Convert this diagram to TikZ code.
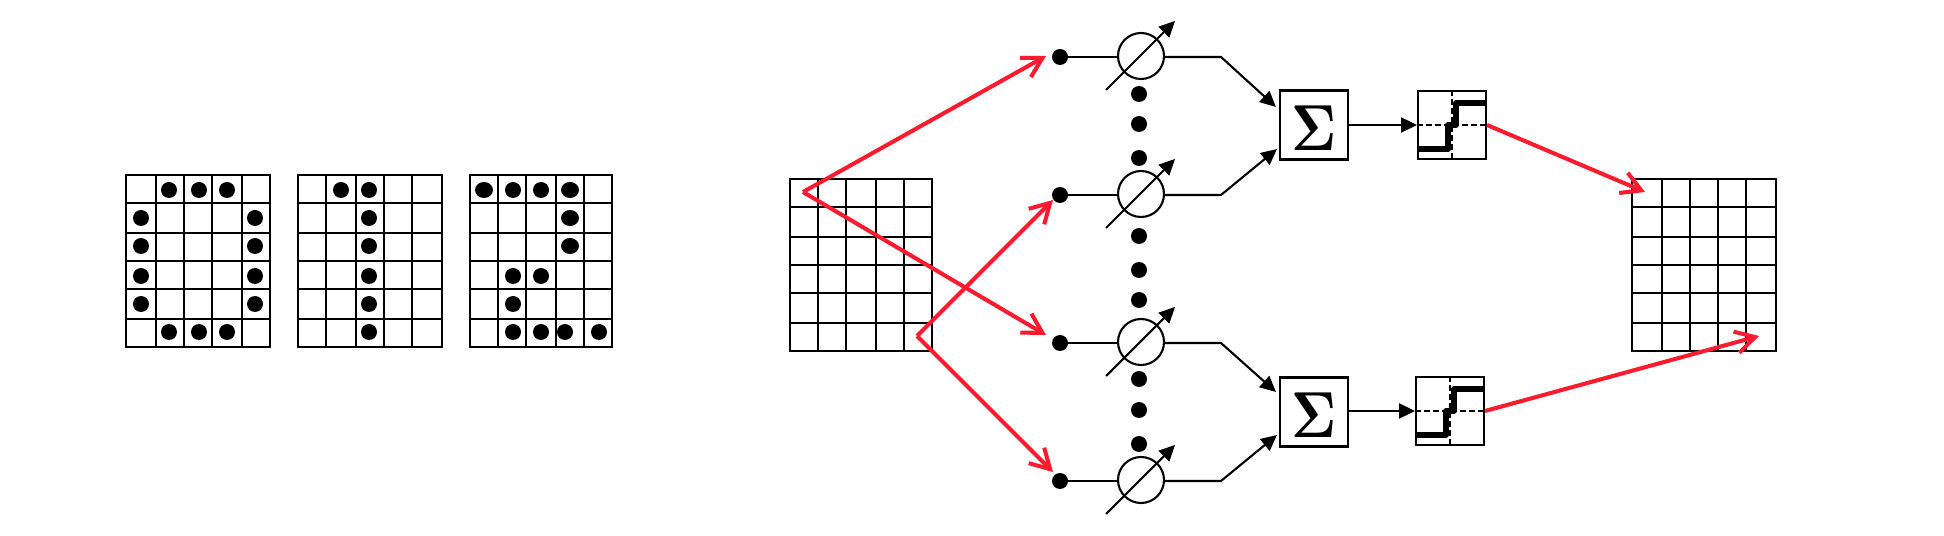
\documentclass[tikz,border=0pt]{standalone}
\usepackage{amsmath}
\usepackage{amssymb}
\usetikzlibrary{arrows.meta,shapes.geometric}

\definecolor{arrowred}{RGB}{255,26,46}

% cell lines of a 5x6 board, #1 is the top left corner, #2 the inner column lines, #3 the width
\newcommand{\pixgrid}[3]{
    \begin{scope}[shift={#1}]
        \foreach \gx in {0,#2,#3} {\draw[gridline] (\gx,0) -- (\gx,172);}
        \foreach \gy in {0,28,58,86,114,144,172} {\draw[gridline] (0,\gy) -- (#3,\gy);}
    \end{scope}
}

% dashed axes and step curve inside a transfer box
\newcommand{\stepcurve}[1]{
    \draw[stepline] ([shift={(-34,24)}]#1.center) -- ++(30,0) -- ++(0,-24) -- ++(8,0) -- ++(0,-22) -- ([shift={(34,-22)}]#1.center);
    \draw[axisline] (#1.west) -- (#1.east);
    \draw[axisline] (#1.north) -- (#1.south);
}

% large sum sign
\newcommand{\sumsign}{\raisebox{-1.6pt}[\height][0pt]{\scalebox{3.1}[3.7]{\boldmath$\Sigma$}}}

\begin{document}
\begin{tikzpicture}[
    x=0.02cm, y=-0.02cm,
    gridline/.style={line width=1.2pt, line cap=rect},
    dot/.style={circle, fill=black, inner sep=0pt, minimum size=0.32cm},
    widedot/.style={ellipse, fill=black, inner sep=0pt, minimum width=0.36cm, minimum height=0.32cm},
    wire/.style={line width=1.2pt},
    arrow/.style={wire, -{Triangle[length=9pt,width=8.5pt]}},
    redarrow/.style={line width=2.3pt, color=arrowred, line join=round,
                     -{Straight Barb[length=11pt,width=12.5pt]}},
    weight/.style={draw, circle, line width=1.2pt, inner sep=0pt, minimum size=0.92cm},
    sumbox/.style={draw, line width=1.2pt, inner sep=0pt, minimum width=1.36cm, minimum height=1.38cm},
    stepbox/.style={draw, line width=1.2pt, inner sep=0pt, minimum size=1.36cm},
    stepline/.style={line width=3.1pt, line join=round},
    axisline/.style={line width=0.9pt, dash pattern=on 3.4pt off 1.7pt}
]
\useasboundingbox (0,0) rectangle (1944,536);

% --- Stored patterns (left) ---
\pixgrid{(126,175)}{30,58,86,116}{144}
\pixgrid{(298,175)}{28,58,86,114}{144}
\pixgrid{(470,175)}{28,56,86,114}{142}

\foreach \px/\py in {169/190,199/190,227/190,141/218,255/218,141/246,255/246,141/276,255/276,141/304,255/304,169/332,199/332,227/332}
    \node[dot] (a\px-\py) at (\px,\py) {};
\foreach \px/\py in {341/190,369/190,369/218,369/246,369/276,369/304,369/332}
    \node[dot] (b\px-\py) at (\px,\py) {};
\foreach \px/\py in {513/190,541/190,513/276,541/276,513/304,513/332,541/332,565/332,599/332}
    \node[dot] (c\px-\py) at (\px,\py) {};
\foreach \px/\py in {484/190,570/190,570/218,570/246}
    \node[widedot] (c\px-\py) at (\px,\py) {};

% --- Input and output boards ---
\pixgrid{(790,179)}{28,56,86,114}{142}
\pixgrid{(1632,179)}{30,58,86,114}{144}

\coordinate (srcA) at (803,192);
\coordinate (srcB) at (917,336);

% --- Input terminals ---
\node[dot] (in1) at (1060,57) {};
\node[dot] (in2) at (1060,195) {};
\node[dot] (in3) at (1060,343) {};
\node[dot] (in4) at (1060,481) {};

% --- Adjustable weights ---
\node[weight] (wt1) at (1141,56) {};
\node[weight] (wt2) at (1141,194) {};
\node[weight] (wt3) at (1141,342) {};
\node[weight] (wt4) at (1141,480) {};

% dots between the weights
\node[dot] (gap1) at (1139,94) {};
\node[dot] (gap2) at (1139,124) {};
\node[dot] (gap3) at (1139,158) {};
\node[dot] (gap4) at (1139,236) {};
\node[dot] (gap5) at (1139,270) {};
\node[dot] (gap6) at (1139,300) {};
\node[dot] (gap7) at (1139,379) {};
\node[dot] (gap8) at (1139,410) {};
\node[dot] (gap9) at (1139,444) {};

% --- Summing and threshold boxes ---
\node[sumbox] (sum1) at (1314,125) {\sumsign};
\node[sumbox] (sum2) at (1314,412) {\sumsign};
\node[stepbox] (thr1) at (1452,125) {};
\node[stepbox] (thr2) at (1450,411) {};
\stepcurve{thr1}
\stepcurve{thr2}

\coordinate (bend1) at (1221,57);
\coordinate (bend2) at (1221,195);
\coordinate (bend3) at (1221,343);
\coordinate (bend4) at (1221,481);

\draw[wire] (in1) -- (in1 -| wt1.west);
\draw[wire] (in2) -- (in2 -| wt2.west);
\draw[wire] (in3) -- (in3 -| wt3.west);
\draw[wire] (in4) -- (in4 -| wt4.west);

\draw[arrow] ([shift={(-35,34)}]wt1.center) -- ([shift={(34,-35)}]wt1.center);
\draw[arrow] ([shift={(-35,34)}]wt2.center) -- ([shift={(34,-35)}]wt2.center);
\draw[arrow] ([shift={(-35,34)}]wt3.center) -- ([shift={(34,-35)}]wt3.center);
\draw[arrow] ([shift={(-35,34)}]wt4.center) -- ([shift={(34,-35)}]wt4.center);

\draw[arrow] (bend1 -| wt1.east) -- (bend1) -- ([shift={(-3,-18)}]sum1.west);
\draw[arrow] (bend2 -| wt2.east) -- (bend2) -- ([shift={(-2,24)}]sum1.west);
\draw[arrow] (bend3 -| wt3.east) -- (bend3) -- ([shift={(-3,-20)}]sum2.west);
\draw[arrow] (bend4 -| wt4.east) -- (bend4) -- ([shift={(-2,23)}]sum2.west);

\draw[arrow] (sum1.east) -- (thr1.west);
\draw[arrow] (thr2.west -| sum2.east) -- (thr2.west);

% --- Red signal paths ---
\coordinate (tip1) at (1046,56);
\coordinate (tip2) at (1053,200);
\coordinate (tip3) at (1046,335);
\coordinate (tip4) at (1053,472);
\coordinate (tip5) at (1645,192);
\coordinate (tip6) at (1759,336);

\draw[redarrow] (srcA) -- (tip1);
\draw[redarrow] (srcA) -- (tip3);
\draw[redarrow] (srcB) -- (tip2);
\draw[redarrow] (srcB) -- (tip4);
\draw[redarrow] (thr1.east) -- (tip5);
\draw[redarrow] (thr2.east) -- (tip6);

\end{tikzpicture}
\end{document}
